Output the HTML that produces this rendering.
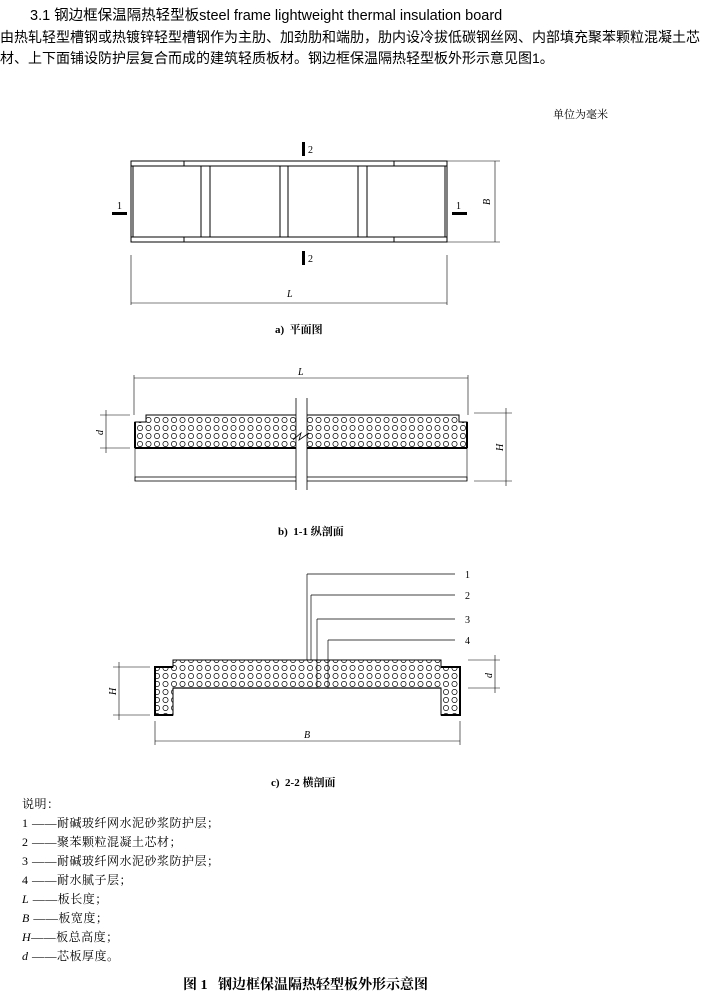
<!DOCTYPE html>
<html><head><meta charset="utf-8"><style>
body{margin:0;background:#fff;width:704px;height:997px;overflow:hidden;position:relative;font-family:"Liberation Sans","Noto Sans CJK SC",sans-serif;}
.t{position:absolute;white-space:nowrap;color:#000;}
.s{font-family:"Liberation Serif","Noto Serif CJK SC",serif;font-size:11px;}
</style></head><body>
<div class="t" style="left:30px;top:4px;font-size:14.5px;">3.1 钢边框保温隔热轻型板steel frame lightweight thermal insulation board</div>
<div class="t" style="left:0;top:27px;font-size:14px;">由热轧轻型槽钢或热镀锌轻型槽钢作为主肋、加劲肋和端肋，肋内设冷拔低碳钢丝网、内部填充聚苯颗粒混凝土芯</div>
<div class="t" style="left:0;top:48px;font-size:14px;">材、上下面铺设防护层复合而成的建筑轻质板材。钢边框保温隔热轻型板外形示意见图1。</div>
<div class="t s" style="left:553px;top:106px;">单位为毫米</div>
<div class="t s" style="left:275px;top:321px;font-weight:bold;">a)&nbsp;&nbsp;平面图</div>
<div class="t s" style="left:278px;top:523px;font-weight:bold;">b)&nbsp;&nbsp;1-1 纵剖面</div>
<div class="t s" style="left:271px;top:774px;font-weight:bold;">c)&nbsp;&nbsp;2-2 横剖面</div>
<div class="t s" style="left:22px;top:795px;line-height:19px;font-size:12px;letter-spacing:0.5px;">说明：<br>1 ——耐碱玻纤网水泥砂浆防护层；<br>2 ——聚苯颗粒混凝土芯材；<br>3 ——耐碱玻纤网水泥砂浆防护层；<br>4 ——耐水腻子层；<br><i>L</i> ——板长度；<br><i>B</i> ——板宽度；<br><i>H</i>——板总高度；<br><i>d</i> ——芯板厚度。</div>
<div class="t s" style="left:183px;top:974px;font-size:14px;font-weight:bold;">图 1&nbsp;&nbsp;&nbsp;钢边框保温隔热轻型板外形示意图</div>
<svg width="704" height="997" style="position:absolute;left:0;top:0" font-family="Liberation Serif,serif" font-size="10">
<defs><pattern id="c" width="8.5" height="8" patternUnits="userSpaceOnUse"><circle cx="4" cy="4" r="2.6" fill="none" stroke="#000" stroke-width="0.7"/></pattern></defs>
<g stroke="#000" fill="none" stroke-width="1">
<rect x="131" y="161" width="316" height="81"/>
<line x1="131" y1="166" x2="447" y2="166"/><line x1="131" y1="237" x2="447" y2="237"/>
<line x1="133" y1="166" x2="133" y2="237"/><line x1="445" y1="166" x2="445" y2="237"/>
<line x1="201" y1="166" x2="201" y2="237"/><line x1="210" y1="166" x2="210" y2="237"/>
<line x1="280" y1="166" x2="280" y2="237"/><line x1="288" y1="166" x2="288" y2="237"/>
<line x1="358" y1="166" x2="358" y2="237"/><line x1="367" y1="166" x2="367" y2="237"/>
<line x1="184" y1="161" x2="184" y2="166"/><line x1="394" y1="161" x2="394" y2="166"/>
<line x1="184" y1="237" x2="184" y2="242"/><line x1="394" y1="237" x2="394" y2="242"/>
<line x1="447" y1="161" x2="500" y2="161" stroke-width="0.6"/><line x1="447" y1="242" x2="500" y2="242" stroke-width="0.6"/>
<line x1="495" y1="161" x2="495" y2="242" stroke-width="0.6"/>
<line x1="131" y1="255" x2="131" y2="305" stroke-width="0.6"/><line x1="447" y1="255" x2="447" y2="305" stroke-width="0.6"/>
<line x1="131" y1="303" x2="447" y2="303" stroke-width="0.6"/>
</g>
<rect x="302" y="142" width="3" height="14"/><rect x="302" y="251" width="3" height="14"/>
<rect x="112" y="212" width="15" height="3"/><rect x="452" y="212" width="15" height="3"/>
<text x="308" y="153">2</text><text x="308" y="262">2</text><text x="117" y="209">1</text><text x="456" y="209">1</text>
<text x="287" y="297" font-style="italic">L</text>
<text x="490" y="205" font-style="italic" transform="rotate(-90 490 205)">B</text>
<g stroke="#000" fill="none">
<line x1="134" y1="378" x2="468" y2="378" stroke-width="0.6"/>
<line x1="134" y1="375" x2="134" y2="415" stroke-width="0.6"/><line x1="468" y1="375" x2="468" y2="415" stroke-width="0.6"/>
<path d="M146 415 H459 V422 H467 V448 H135 V422 H146 Z" fill="url(#c)" stroke-width="1"/>
<line x1="135" y1="448" x2="467" y2="448" stroke-width="2"/>
<line x1="135" y1="422" x2="135" y2="448" stroke-width="2"/><line x1="467" y1="422" x2="467" y2="448" stroke-width="2"/>
<line x1="135" y1="448" x2="135" y2="481" stroke-width="0.6"/><line x1="467" y1="448" x2="467" y2="481" stroke-width="0.6"/>
<rect x="135" y="477" width="332" height="4" stroke-width="0.8"/>
<line x1="100" y1="415" x2="130" y2="415" stroke-width="0.6"/><line x1="100" y1="448" x2="130" y2="448" stroke-width="0.6"/>
<line x1="106" y1="410" x2="106" y2="453" stroke-width="0.6"/>
<line x1="474" y1="413" x2="512" y2="413" stroke-width="0.6"/><line x1="474" y1="481" x2="512" y2="481" stroke-width="0.6"/>
<line x1="506" y1="408" x2="506" y2="486" stroke-width="0.6"/>
</g>
<rect x="296" y="398" width="11" height="92" fill="#fff"/>
<line x1="296" y1="398" x2="296" y2="490" stroke="#000" stroke-width="0.8"/><line x1="307" y1="398" x2="307" y2="490" stroke="#000" stroke-width="0.8"/>
<path d="M293 440 L301 433 L299 440 L309 433" stroke="#000" fill="none" stroke-width="0.8"/>
<text x="298" y="375" font-style="italic">L</text>
<text x="103" y="435" font-style="italic" transform="rotate(-90 103 435)">d</text>
<text x="503" y="451" font-style="italic" transform="rotate(-90 503 451)">H</text>
<g stroke="#000" fill="none">
<path d="M173 660 H441 V667 H460 V715 H441 V688 H173 V715 H155 V667 H173 Z" fill="url(#c)" stroke-width="1"/>
<path d="M173 667 H155 V715 H173" stroke-width="2"/><path d="M441 667 H460 V715 H441" stroke-width="2"/>
<line x1="173" y1="688" x2="441" y2="688" stroke-width="1.2"/>
<line x1="307" y1="574" x2="307" y2="660" stroke-width="0.7"/><line x1="307" y1="574" x2="455" y2="574" stroke-width="0.7"/>
<line x1="311" y1="595" x2="311" y2="660" stroke-width="0.7"/><line x1="311" y1="595" x2="455" y2="595" stroke-width="0.7"/>
<line x1="317" y1="619" x2="317" y2="688" stroke-width="0.7"/><line x1="317" y1="619" x2="455" y2="619" stroke-width="0.7"/>
<line x1="328" y1="640" x2="328" y2="688" stroke-width="0.7"/><line x1="328" y1="640" x2="455" y2="640" stroke-width="0.7"/>
<line x1="113" y1="667" x2="150" y2="667" stroke-width="0.6"/><line x1="113" y1="715" x2="150" y2="715" stroke-width="0.6"/>
<line x1="119" y1="662" x2="119" y2="720" stroke-width="0.6"/>
<line x1="468" y1="660" x2="500" y2="660" stroke-width="0.6"/><line x1="468" y1="688" x2="500" y2="688" stroke-width="0.6"/>
<line x1="495" y1="655" x2="495" y2="693" stroke-width="0.6"/>
<line x1="155" y1="721" x2="155" y2="745" stroke-width="0.6"/><line x1="460" y1="721" x2="460" y2="745" stroke-width="0.6"/>
<line x1="155" y1="741" x2="460" y2="741" stroke-width="0.6"/>
</g>
<text x="465" y="578">1</text><text x="465" y="599">2</text><text x="465" y="623">3</text><text x="465" y="644">4</text>
<text x="304" y="738" font-style="italic">B</text>
<text x="116" y="695" font-style="italic" transform="rotate(-90 116 695)">H</text>
<text x="492" y="678" font-style="italic" transform="rotate(-90 492 678)">d</text>
</svg>
</body></html>
